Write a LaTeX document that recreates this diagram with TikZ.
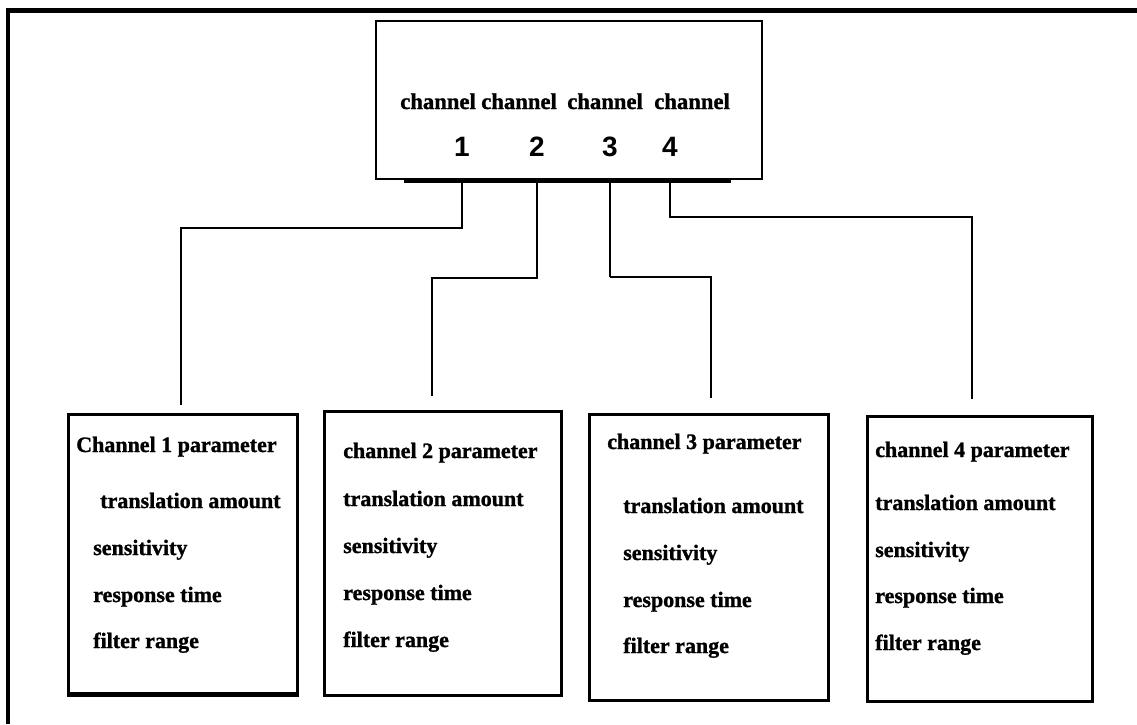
\documentclass[tikz,border=0pt]{standalone}
\usepackage{fontspec}
\setmainfont{Liberation Serif}[BoldFeatures={FakeBold=1.2}]
\newfontfamily\digitfont{Liberation Sans}
\usetikzlibrary{fit}
\begin{document}
\begin{tikzpicture}[x=0.75pt, y=-0.75pt,
  frameline/.style={line width=3.4pt, line join=miter},
  hubbox/.style={draw, line width=1.5pt, inner sep=0pt},
  pbox/.style={draw, line width=2.25pt, inner sep=0pt},
  bar/.style={line width=2.6pt},
  link/.style={line width=1.5pt},
  thicklink/.style={line width=2.2pt},
  plabel/.style={font=\bfseries\fontsize{16.5}{20}\selectfont, anchor=base west, inner sep=0pt},
  chan/.style={font=\bfseries\fontsize{17}{20}\selectfont, anchor=base west, inner sep=0pt},
  num/.style={font=\digitfont\bfseries\fontsize{21}{24}\selectfont, anchor=base, inner sep=0pt}]
\useasboundingbox (0,0) rectangle (1137,724);

% outer frame (top and left edges)
\draw[frameline] (8,724) -- (8,10.5) -- (1137,10.5);

% channel selector box
\node[hubbox, fit={(376,21) (762,179)}] (hub) {};
\node[chan] (h1) at (400,109) {channel};
\node[chan] (h2) at (481,109) {channel};
\node[chan] (h3) at (567,109) {channel};
\node[chan] (h4) at (654,109) {channel};
\node[num] (n1) at (462,156) {1};
\node[num] (n2) at (537,156) {2};
\node[num] (n3) at (610,156) {3};
\node[num] (n4) at (670,156) {4};

% output bar under the selector
\coordinate (barL) at (404,181);
\coordinate (barR) at (731,181);
\draw[bar] (barL) -- (barR);

% parameter boxes
\node[pbox, fit={(68,414) (297,693)}] (b1) {};
\node[pbox, fit={(324,411) (561,695)}] (b2) {};
\node[pbox, fit={(589,414) (828,700)}] (b3) {};
\node[pbox, fit={(867,416) (1092,701)}] (b4) {};
\draw[line width=3pt] (b1.south west) -- (b1.south east);

% box 1
\node[plabel] (t11) at (76,452) {Channel 1 parameter};
\node[plabel] (t12) at (100,508) {translation amount};
\node[plabel] (t13) at (93,555) {sensitivity};
\node[plabel] (t14) at (93,602) {response time};
\node[plabel] (t15) at (93,648) {filter range};
% box 2
\node[plabel] (t21) at (343,458) {channel 2 parameter};
\node[plabel] (t22) at (343,506) {translation amount};
\node[plabel] (t23) at (343,553) {sensitivity};
\node[plabel] (t24) at (343,600) {response time};
\node[plabel] (t25) at (343,647) {filter range};
% box 3
\node[plabel] (t31) at (607,449) {channel 3 parameter};
\node[plabel] (t32) at (623,513) {translation amount};
\node[plabel] (t33) at (623,560) {sensitivity};
\node[plabel] (t34) at (623,607) {response time};
\node[plabel] (t35) at (623,653) {filter range};
% box 4
\node[plabel] (t41) at (875,457) {channel 4 parameter};
\node[plabel] (t42) at (875,510) {translation amount};
\node[plabel] (t43) at (875,557) {sensitivity};
\node[plabel] (t44) at (875,603) {response time};
\node[plabel] (t45) at (875,650) {filter range};

% connector start and end points
\coordinate (s1) at (n1 |- barL);
\coordinate (s2) at (n2 |- barL);
\coordinate (s3) at (n3 |- barL);
\coordinate (s4) at (n4 |- barL);
\coordinate (e1) at (181,405);
\coordinate (e2) at (432,396);
\coordinate (e3) at (711,398);
\coordinate (e4) at (972,399);

% connectors
\draw[link] (s1) -- ++(0,47) -| (e1);
\draw[thicklink] (e1) -- ++(0,-22);
\draw[link] (s2) -- ++(0,97) -| (e2);
\draw[thicklink] (s3) -- ++(0,96);
\draw[link] (s3) ++(0,96) -| (e3);
\draw[link] (s4) -- ++(0,36) -| (e4);
\end{tikzpicture}
\end{document}
